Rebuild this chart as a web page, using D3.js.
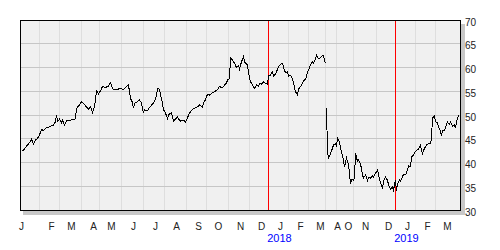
<!DOCTYPE html>
<html>
<head>
<meta charset="utf-8">
<script src="https://cdn.jsdelivr.net/npm/d3@7"></script>
<style>
body { margin: 0; background: #fff; }
text { font-family: "Liberation Sans", Arial, sans-serif; }
</style>
</head>
<body>
<div id="container"></div>
<script>
var width = 500, height = 250;
var plot = {left: 20, top: 20, right: 460, bottom: 210};

// trading day index -> closing price, two stretches with a hole between them
var days1 = [1,3,5,7,10,11,13,15,17,19,21,23,25,28,31,33,35,36,37,39,41,42,44,46,50,55,56,59,61,64,66,68,70,72,74,
    76,78,80,82,85,88,90,92,93,97,100,103,106,108,109,110,112,113,114,117,119,121,123,124,127,129,132,134,136,137,139,
    140,142,143,145,147,148,150,151,152,153,155,157,158,160,163,165,167,169,172,174,177,179,182,183,185,187,189,192,194,
    197,199,202,204,206,207,209,210,212,214,216,218,219,221,223,224,226,227,228,230,232,233,234,236,238,239,241,243,244,
    247,248,250,252,253,255,257,258,260,262,263,265,267,268,270,272,273,275,277,278,280,282,283,285,287,288,290,292,293,
    295,296,298,299,301,303,304,305];
var prices1 = [42.4,42.6,43.2,43.7,44.4,44.9,43.9,44.7,45.1,45.8,47.0,46.7,47.2,47.4,47.7,47.9,48.6,50.0,48.6,49.1,48.3,48.9,47.9,48.8,48.9,49.2,51.4,52.1,52.8,52.2,51.7,51.2,51.7,50.5,51.7,
    55.1,54.4,55.1,56.0,55.8,56.1,56.8,55.6,55.3,55.4,55.6,55.3,56.0,56.3,54.9,53.5,52.6,51.4,52.5,52.8,53.2,52.5,50.4,51.1,50.9,51.6,52.3,52.8,54.2,55.6,55.4,
    54.2,52.5,51.1,50.4,49.3,50.0,50.4,50.5,49.6,48.7,49.2,49.6,49.2,48.7,48.9,48.5,49.4,50.4,51.2,51.4,51.7,52.1,51.7,52.5,53.2,54.4,54.2,54.7,54.9,
    55.3,56.0,55.7,56.3,56.7,57.4,57.7,62.1,61.6,60.9,60.0,60.4,59.7,61.2,62.3,61.2,60.7,60.5,58.8,57.0,56.3,56.0,55.6,56.3,56.0,56.7,56.5,57.0,56.8,
    56.5,58.2,58.4,59.1,58.2,58.6,59.6,60.2,60.7,60.9,60.0,58.9,59.1,58.2,58.4,57.5,56.7,54.9,54.2,55.4,56.0,56.7,57.2,57.5,58.9,59.5,60.5,61.2,60.9,
    61.9,62.6,61.9,61.9,62.3,62.6,61.6,60.9];

var days2 = [306,307,308,310,312,313,315,316,317,319,320,322,323,324,326,328,329,330,331,333,334,335,337,338,339,341,342,343,345,
    347,348,350,352,353,355,357,358,359,361,362,363,365,367,368,370,372,373,375,376,377,379,380,382,383,385,387,388,390,
    391,393,394,396,398,400,401,402,404,406,408,410,411,412,414,415,417,418,420,421,422,424,426,427,429,430,432,434,435,436,438];
var prices2 = [51.4,42.3,40.9,41.9,43.0,43.7,44.0,43.5,45.1,44.4,43.0,41.4,40.4,39.1,40.9,39.5,37.7,35.5,36.4,36.3,36.7,41.9,40.2,40.5,40.2,38.8,37.4,36.7,37.4,
    36.2,36.9,36.7,37.2,36.9,37.7,38.4,37.7,36.3,35.3,34.4,36.0,36.9,36.3,35.3,34.4,34.8,34.2,36.3,34.0,35.5,36.3,36.0,37.0,37.5,37.4,38.4,39.3,39.1,
    41.2,41.6,42.1,42.6,42.8,43.7,42.6,41.9,43.0,43.7,44.0,44.0,45.1,49.4,49.8,48.6,48.3,47.5,46.6,45.6,46.8,46.8,48.0,48.5,48.0,48.5,47.7,48.0,47.2,48.6,50.0];

// month starts (trading day index) and their letters
var monthStarts = [-10,19,39,61,79,101,123,144,166,186,208,229,248,269,288,306,316,334,356,375,395,415];
var monthLabels = ["J","F","M","A","M","J","J","A","S","O","N","D","J","F","M","A","O","N","D","J","F","M"];
var yearStarts = [248, 375];
var yearLabels = ["2018", "2019"];
var yTicks = [30,35,40,45,50,55,60,65,70];

var x = d3.scaleLinear().domain([0, 440]).range([plot.left, plot.right]);
var y = d3.scaleLinear().domain([30, 70]).range([plot.bottom, plot.top]);

function px(v) { return Math.floor(v) + 0.5; }

var svg = d3.select("#container")
    .append("svg")
        .attr("width", width)
        .attr("height", height);

// drop shadow
svg.append("rect")
    .attr("x", plot.right + 1).attr("y", plot.top + 4)
    .attr("width", 4).attr("height", plot.bottom - plot.top + 1)
    .attr("fill", "#c8c8c8");
svg.append("rect")
    .attr("x", plot.left + 3).attr("y", plot.bottom + 1)
    .attr("width", plot.right - plot.left + 2).attr("height", 4)
    .attr("fill", "#c8c8c8");

svg.append("rect")
    .attr("x", plot.left).attr("y", plot.top)
    .attr("width", plot.right - plot.left).attr("height", plot.bottom - plot.top)
    .attr("fill", "#f0f0f0");

// vertical grid at month starts
svg.selectAll("line.vgrid")
    .data(monthStarts.filter(function(d) { return d > 0; }))
    .enter()
    .append("line")
    .attr("class", "vgrid")
    .attr("x1", function(d) { return px(x(d)); })
    .attr("x2", function(d) { return px(x(d)); })
    .attr("y1", plot.top)
    .attr("y2", plot.bottom)
    .attr("stroke", "#dedede")
    .attr("stroke-width", 1);

svg.selectAll("line.hgrid")
    .data(yTicks.slice(1, -1))
    .enter()
    .append("line")
    .attr("class", "hgrid")
    .attr("x1", plot.left)
    .attr("x2", plot.right)
    .attr("y1", function(d) { return px(y(d)); })
    .attr("y2", function(d) { return px(y(d)); })
    .attr("stroke", "#c6c6c6")
    .attr("stroke-width", 1);

// red year separators
svg.selectAll("line.year")
    .data(yearStarts)
    .enter()
    .append("line")
    .attr("class", "year")
    .attr("x1", function(d) { return px(x(d)); })
    .attr("x2", function(d) { return px(x(d)); })
    .attr("y1", plot.top)
    .attr("y2", plot.bottom)
    .attr("stroke", "#ff0000")
    .attr("stroke-width", 1);

var line = d3.line()
    .x(function(d) { return x(d[0]) + 0.5; })
    .y(function(d) { return y(d[1]); });

[[days1, prices1], [days2, prices2]].forEach(function(s) {
    svg.append("path")
        .datum(d3.zip(s[0], s[1]))
        .attr("d", line)
        .attr("fill", "none")
        .attr("stroke", "#000")
        .attr("stroke-width", 1)
        .attr("shape-rendering", "crispEdges");
});

svg.append("rect")
    .attr("x", plot.left + 0.5).attr("y", plot.top + 0.5)
    .attr("width", plot.right - plot.left).attr("height", plot.bottom - plot.top)
    .attr("fill", "none")
    .attr("stroke", "#000")
    .attr("stroke-width", 1);

// right hand price labels
svg.selectAll("text.ylab")
    .data(yTicks)
    .enter()
    .append("text")
    .attr("class", "ylab")
    .attr("x", plot.right + 5)
    .attr("y", function(d) { return y(d) + 5.5; })
    .attr("font-size", 10)
    .attr("fill", "#222")
    .text(function(d) { return d; });

svg.selectAll("text.month")
    .data(monthStarts)
    .enter()
    .append("text")
    .attr("class", "month")
    .attr("x", function(d) { return px(x(d)) + 12; })
    .attr("y", 230)
    .attr("text-anchor", "middle")
    .attr("font-size", 10)
    .attr("fill", "#222")
    .text(function(d, i) { return monthLabels[i]; });

svg.selectAll("text.yearlab")
    .data(yearStarts)
    .enter()
    .append("text")
    .attr("class", "yearlab")
    .attr("x", function(d) { return px(x(d)) + 11; })
    .attr("y", 242)
    .attr("text-anchor", "middle")
    .attr("font-size", 11)
    .attr("fill", "#0000ff")
    .text(function(d, i) { return yearLabels[i]; });
</script>
</body>
</html>
